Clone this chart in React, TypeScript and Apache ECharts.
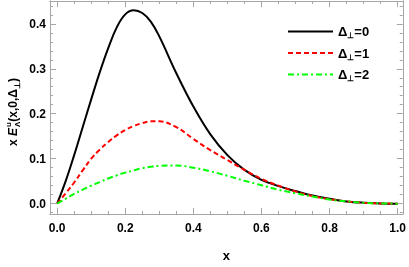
import React, { useEffect, useRef } from "react";
import * as echarts from "echarts";

const xs = [0, 0.025, 0.05, 0.075, 0.1, 0.125, 0.15, 0.175, 0.2, 0.225, 0.25, 0.275, 0.3, 0.35, 0.4, 0.45, 0.5, 0.55, 0.6, 0.65, 0.7, 0.75, 0.8, 0.85, 0.9, 0.95, 1.0];
const black = [0, 0.05, 0.108, 0.17, 0.232, 0.292, 0.346, 0.392, 0.421, 0.43, 0.424, 0.405, 0.372, 0.29, 0.216, 0.154, 0.108, 0.075, 0.053, 0.039, 0.028, 0.018, 0.011, 0.005, 0.002, 0.0005, 0];
const red = [0, 0.023, 0.047, 0.074, 0.1, 0.12, 0.137, 0.152, 0.164, 0.173, 0.179, 0.183, 0.183, 0.17, 0.144, 0.119, 0.097, 0.075, 0.055, 0.04, 0.027, 0.017, 0.01, 0.005, 0.002, 0.0005, 0];
const green = [0, 0.011, 0.022, 0.031, 0.04, 0.048, 0.056, 0.063, 0.069, 0.074, 0.079, 0.082, 0.084, 0.085, 0.08, 0.072, 0.062, 0.051, 0.041, 0.031, 0.023, 0.016, 0.009, 0.005, 0.002, 0.0005, 0];

const yMajor = [0, 0.1, 0.2, 0.3, 0.4];
const yMinor = [-0.02, 0.02, 0.04, 0.06, 0.08, 0.12, 0.14, 0.16, 0.18, 0.22, 0.24, 0.26, 0.28, 0.32, 0.34, 0.36, 0.38, 0.42, 0.44];
const xMajor = [0, 0.2, 0.4, 0.6, 0.8, 1.0];
const xMinor = [0.05, 0.1, 0.15, 0.25, 0.3, 0.35, 0.45, 0.5, 0.55, 0.65, 0.7, 0.75, 0.85, 0.9, 0.95];

const legendNames = ["Δ⊥=0", "Δ⊥=1", "Δ⊥=2"];

const X_MIN = -0.021, X_MAX = 1.015, Y_MIN = -0.023, Y_MAX = 0.4507;
const FRAME = "#a6a6a6";
const FONT = "'Liberation Sans', Arial, sans-serif";

function measure(text: string, font: string) {
  const c = document.createElement("canvas").getContext("2d")!;
  c.font = font;
  return c.measureText(text).width;
}

export default function App() {
  const ref = useRef<HTMLDivElement>(null);
  useEffect(() => {
    const chart = echarts.init(ref.current!, null, { renderer: "svg" });
    const mk = (d: number[]) => xs.map((x, i) => [x, d[i]]);

    const xAx = (pos: "bottom" | "top", vals: number[], len: number, labels: boolean, name?: string) => ({
      type: "value", min: X_MIN, max: X_MAX, position: pos,
      name, nameLocation: "middle", nameGap: 35,
      nameTextStyle: { color: "#000", fontWeight: "bold", fontSize: 13, fontFamily: FONT },
      axisLine: { show: true, onZero: false, lineStyle: { color: FRAME, width: 1 } },
      axisTick: { show: true, inside: true, length: len, customValues: vals, lineStyle: { color: FRAME } },
      axisLabel: labels
        ? { show: true, customValues: xMajor, margin: 8, color: "#000", fontWeight: "bold", fontSize: 12, fontFamily: FONT, formatter: (v: number) => v.toFixed(1) }
        : { show: false },
      splitLine: { show: false },
    });
    const yAx = (pos: "left" | "right", vals: number[], len: number, labels: boolean) => ({
      type: "value", min: Y_MIN, max: Y_MAX, position: pos,
      axisLine: { show: true, onZero: false, lineStyle: { color: FRAME, width: 1 } },
      axisTick: { show: true, inside: true, length: len, customValues: vals, lineStyle: { color: FRAME } },
      axisLabel: labels
        ? { show: true, customValues: yMajor, margin: 4, color: "#000", fontWeight: "bold", fontSize: 12, fontFamily: FONT, formatter: (v: number) => v.toFixed(1) }
        : { show: false },
      splitLine: { show: false },
    });

    // rotated y-axis title built from pieces
    const big = `bold 12px ${FONT}`;
    const bigI = `italic bold 12px ${FONT}`;
    const small = `bold 8px ${FONT}`;
    const pieces: { t: string; f: string; dy: number; adv: boolean }[] = [
      { t: "x ", f: big, dy: 0, adv: true },
      { t: "E", f: bigI, dy: 0, adv: true },
      { t: "u", f: small, dy: -5, adv: false },
      { t: "Λ", f: small, dy: 4, adv: true },
      { t: "(x,0,Δ", f: big, dy: 0, adv: true },
      { t: "⊥", f: small, dy: 4, adv: true },
      { t: ")", f: big, dy: 0, adv: true },
    ];
    let cx = 0;
    const children: any[] = [];
    pieces.forEach((p) => {
      const w = measure(p.t, p.f);
      children.push({ type: "text", x: cx, y: p.dy, style: { text: p.t, font: p.f, fill: "#000", verticalAlign: "middle", align: "left" } });
      if (p.adv) cx += w + (p.t === "E" ? 1 : 0);
    });
    const total = cx;
    children.forEach((c) => (c.x -= total / 2));

    chart.setOption({
      animation: false,
      grid: { left: 50, right: 5, top: 1, bottom: 48 },
      xAxis: [
        xAx("bottom", xMajor, 6, true, "x"),
        xAx("bottom", xMinor, 3, false),
        xAx("top", xMajor, 6, false),
        xAx("top", xMinor, 3, false),
      ],
      yAxis: [
        yAx("left", yMajor, 6, true),
        yAx("left", yMinor, 3, false),
        yAx("right", yMajor, 6, false),
        yAx("right", yMinor, 3, false),
      ],
      legend: {
        left: 282, top: 20, orient: "vertical", itemWidth: 45, itemHeight: 12, itemGap: 7,
        data: legendNames,
        itemStyle: { opacity: 0 },
        formatter: (n: string) => `{a|Δ}{s|⊥}{a|${n.slice(2)}}`,
        textStyle: {
          color: "#000", fontWeight: "bold", fontSize: 13, fontFamily: FONT,
          rich: {
            a: { fontWeight: "bold", fontSize: 13, fontFamily: FONT, color: "#000", lineHeight: 16, verticalAlign: "middle" },
            s: { fontWeight: "bold", fontSize: 8, fontFamily: FONT, color: "#000", lineHeight: 9, verticalAlign: "bottom" },
          },
        },
      },
      graphic: [{ type: "group", x: 13, y: 112, rotation: Math.PI / 2, children }],
      series: [
        { name: legendNames[0], type: "line", data: mk(black), smooth: 0.4, symbol: "none", lineStyle: { color: "#000", width: 2, type: "solid" }, itemStyle: { color: "#000" } },
        { name: legendNames[1], type: "line", data: mk(red), smooth: 0.4, symbol: "none", lineStyle: { color: "#ff0000", width: 2, type: [5, 3] }, itemStyle: { color: "#ff0000" } },
        { name: legendNames[2], type: "line", data: mk(green), smooth: 0.4, symbol: "none", lineStyle: { color: "#00ff00", width: 2, type: [6, 3, 2, 3] }, itemStyle: { color: "#00ff00" } },
      ],
    });
    return () => chart.dispose();
  }, []);
  return <div ref={ref} style={{ width: 409, height: 267, position: "fixed", left: 0, top: 0 }} />;
}
